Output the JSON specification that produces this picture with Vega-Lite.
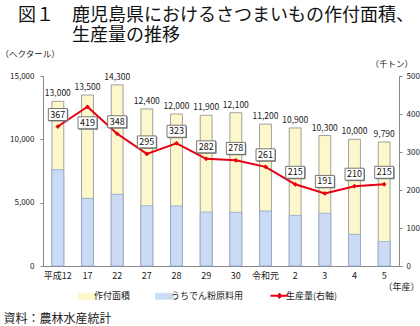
{
  "$schema": "https://vega.github.io/schema/vega-lite/v6.json",
  "width": 356,
  "height": 190,
  "autosize": {"type": "none"},
  "padding": {"left": 43, "top": 76, "right": 21, "bottom": 60},
  "background": "white",
  "title": {
    "text": ["図１　鹿児島県におけるさつまいもの作付面積、", "\u200b　　　生産量の推移"],
    "anchor": "start",
    "frame": "group",
    "dx": -25,
    "dy": -4,
    "offset": 0,
    "font": "Noto Sans CJK JP",
    "fontSize": 18,
    "fontWeight": "normal",
    "lineHeight": 20,
    "color": "#111111"
  },
  "config": {
    "view": {"stroke": null},
    "axis": {
      "grid": false,
      "domainColor": "#888888",
      "tickColor": "#888888",
      "labelFont": "Noto Sans CJK JP",
      "titleFont": "Noto Sans CJK JP",
      "labelColor": "#222222",
      "titleColor": "#222222",
      "titleFontWeight": "normal"
    },
    "text": {"font": "Noto Sans CJK JP"}
  },
  "data": {
    "values": [
      {"year": "平成12", "area": 13000, "starch": 7600, "production": 367},
      {"year": "17", "area": 13500, "starch": 5340, "production": 419},
      {"year": "22", "area": 14300, "starch": 5660, "production": 348},
      {"year": "27", "area": 12400, "starch": 4760, "production": 295},
      {"year": "28", "area": 12000, "starch": 4740, "production": 323},
      {"year": "29", "area": 11900, "starch": 4260, "production": 282},
      {"year": "30", "area": 12100, "starch": 4240, "production": 278},
      {"year": "令和元", "area": 11200, "starch": 4340, "production": 261},
      {"year": "2", "area": 10900, "starch": 4000, "production": 215},
      {"year": "3", "area": 10300, "starch": 4160, "production": 191},
      {"year": "4", "area": 10000, "starch": 2500, "production": 210},
      {"year": "5", "area": 9790, "starch": 1920, "production": 215}
    ]
  },
  "layer": [
    {
      "encoding": {
        "x": {
          "field": "year",
          "type": "ordinal",
          "sort": null,
          "scale": {"paddingInner": 0, "paddingOuter": 0},
          "axis": {
            "orient": "bottom",
            "title": "（年産）",
            "titleX": 340,
            "titleY": 20,
            "titleAlign": "left",
            "titleBaseline": "middle",
            "titleFontSize": 9,
            "labelAngle": 0,
            "labelFontSize": 9,
            "labelPadding": 5,
            "ticks": false,
            "tickSize": 0
          }
        }
      },
      "layer": [
        {
          "mark": {"type": "bar", "width": {"band": 0.4}, "stroke": "#8a8a8a", "strokeWidth": 0.8},
          "encoding": {
            "y": {
              "field": "area",
              "type": "quantitative",
              "scale": {"domain": [0, 15000], "nice": false},
              "axis": {
                "title": "（ヘクタール）",
                "titleAngle": 0,
                "titleX": -43,
                "titleY": -23,
                "titleAlign": "left",
                "titleBaseline": "middle",
                "titleFontSize": 8.5,
                "values": [0, 5000, 10000, 15000],
                "labelExpr": "format(datum.value, ',')",
                "labelFontSize": 8,
                "tickSize": 3,
                "labelPadding": 6
              }
            },
            "color": {
              "datum": "作付面積",
              "type": "nominal",
              "scale": {
                "domain": ["作付面積", "うちでん粉原料用", "生産量(右軸)"],
                "range": ["#FDF8CC", "#CCDBF4", "#E60012"]
              },
              "legend": {
                "orient": "none",
                "legendX": 40,
                "legendY": 215,
                "direction": "horizontal",
                "title": null,
                "padding": 0,
                "symbolSize": 324,
                "labelFont": "Noto Sans CJK JP",
                "labelFontSize": 9,
                "labelColor": "#222222",
                "labelOffset": 2,
                "columnPadding": 22,
                "encode": {
                  "symbols": {
                    "update": {
                      "shape": {"signal": "datum.value === '生産量(右軸)' ? 'M-1,0H1M-0.2,0L0,-0.2L0.2,0L0,0.2Z' : 'M-1,-0.33H1V0.33H-1Z'"},
                      "stroke": {"signal": "datum.value === '生産量(右軸)' ? '#E60012' : '#808080'"},
                      "strokeWidth": {"signal": "datum.value === '生産量(右軸)' ? 2 : 0.8"},
                      "fill": {"scale": "color", "field": "value"},
                      "opacity": {"value": 1},
                      "fillOpacity": {"value": 1}
                    }
                  }
                }
              }
            }
          }
        },
        {
          "mark": {"type": "bar", "width": {"band": 0.4}, "stroke": "#8fa6cf", "strokeWidth": 0.8},
          "encoding": {
            "y": {
              "field": "starch",
              "type": "quantitative",
              "axis": {
                "title": "（ヘクタール）",
                "titleAngle": 0,
                "titleX": -43,
                "titleY": -23,
                "titleAlign": "left",
                "titleBaseline": "middle",
                "titleFontSize": 8.5,
                "values": [0, 5000, 10000, 15000],
                "labelExpr": "format(datum.value, ',')",
                "labelFontSize": 8,
                "tickSize": 3,
                "labelPadding": 6
              }
            },
            "color": {
              "datum": "うちでん粉原料用",
              "type": "nominal",
              "legend": {
                "orient": "none",
                "legendX": 40,
                "legendY": 215,
                "direction": "horizontal",
                "title": null,
                "padding": 0,
                "symbolSize": 324,
                "labelFont": "Noto Sans CJK JP",
                "labelFontSize": 9,
                "labelColor": "#222222",
                "labelOffset": 2,
                "columnPadding": 22,
                "encode": {
                  "symbols": {
                    "update": {
                      "shape": {"signal": "datum.value === '生産量(右軸)' ? 'M-1,0H1M-0.2,0L0,-0.2L0.2,0L0,0.2Z' : 'M-1,-0.33H1V0.33H-1Z'"},
                      "stroke": {"signal": "datum.value === '生産量(右軸)' ? '#E60012' : '#808080'"},
                      "strokeWidth": {"signal": "datum.value === '生産量(右軸)' ? 2 : 0.8"},
                      "fill": {"scale": "color", "field": "value"},
                      "opacity": {"value": 1},
                      "fillOpacity": {"value": 1}
                    }
                  }
                }
              }
            }
          }
        },
        {
          "mark": {"type": "text", "baseline": "bottom", "dy": -3, "fontSize": 8.5, "color": "#222222"},
          "encoding": {
            "y": {"field": "area", "type": "quantitative"},
            "text": {"field": "area", "type": "quantitative", "format": ","}
          }
        }
      ]
    },
    {
      "encoding": {
        "x": {
          "field": "year",
          "type": "ordinal",
          "sort": null,
          "scale": {"padding": 0.5},
          "axis": {
            "orient": "bottom",
            "title": "資料：農林水産統計",
            "titleX": -40,
            "titleY": 52,
            "titleAlign": "left",
            "titleBaseline": "middle",
            "titleFontSize": 12,
            "domain": false,
            "ticks": false,
            "labels": false
          }
        },
        "y": {
          "field": "production",
          "type": "quantitative",
          "scale": {"domain": [0, 500], "nice": false},
          "axis": {
            "orient": "right",
            "title": "（千トン）",
            "titleAngle": 0,
            "titleX": -29,
            "titleY": -13,
            "titleAlign": "left",
            "titleBaseline": "middle",
            "titleFontSize": 8.5,
            "values": [0, 100, 200, 300, 400, 500],
            "labelFontSize": 8,
            "tickSize": 3,
            "labelPadding": 4
          }
        }
      },
      "layer": [
        {
          "mark": {"type": "line", "strokeWidth": 2},
          "encoding": {
            "color": {
              "datum": "生産量(右軸)",
              "type": "nominal",
              "legend": {
                "orient": "none",
                "legendX": 40,
                "legendY": 215,
                "direction": "horizontal",
                "title": null,
                "padding": 0,
                "symbolSize": 324,
                "labelFont": "Noto Sans CJK JP",
                "labelFontSize": 9,
                "labelColor": "#222222",
                "labelOffset": 2,
                "columnPadding": 22,
                "encode": {
                  "symbols": {
                    "update": {
                      "shape": {"signal": "datum.value === '生産量(右軸)' ? 'M-1,0H1M-0.2,0L0,-0.2L0.2,0L0,0.2Z' : 'M-1,-0.33H1V0.33H-1Z'"},
                      "stroke": {"signal": "datum.value === '生産量(右軸)' ? '#E60012' : '#808080'"},
                      "strokeWidth": {"signal": "datum.value === '生産量(右軸)' ? 2 : 0.8"},
                      "fill": {"scale": "color", "field": "value"},
                      "opacity": {"value": 1},
                      "fillOpacity": {"value": 1}
                    }
                  }
                }
              }
            }
          }
        },
        {
          "mark": {"type": "point", "shape": "diamond", "filled": true, "size": 22, "color": "#E60012", "opacity": 1}
        },
        {
          "transform": [{"filter": "datum.year !== '17'"}],
          "mark": {"type": "point", "shape": "M-1,-0.63H1V0.63H-1Z", "size": 361, "filled": true, "fill": "#8a8a8a", "stroke": null, "opacity": 1, "xOffset": 1, "yOffset": -11}
        },
        {
          "transform": [{"filter": "datum.year !== '17'"}],
          "mark": {"type": "point", "shape": "M-1,-0.63H1V0.63H-1Z", "size": 361, "filled": true, "fill": "white", "stroke": "#555555", "strokeWidth": 0.8, "opacity": 1, "yOffset": -12}
        },
        {
          "transform": [{"filter": "datum.year !== '17'"}],
          "mark": {"type": "text", "baseline": "middle", "dy": -12, "fontSize": 9, "color": "#111111"},
          "encoding": {"text": {"field": "production", "type": "quantitative"}}
        },
        {
          "transform": [{"filter": "datum.year === '17'"}],
          "mark": {"type": "point", "shape": "M-1,-0.63H1V0.63H-1Z", "size": 361, "filled": true, "fill": "#8a8a8a", "stroke": null, "opacity": 1, "xOffset": 1, "yOffset": 17}
        },
        {
          "transform": [{"filter": "datum.year === '17'"}],
          "mark": {"type": "point", "shape": "M-1,-0.63H1V0.63H-1Z", "size": 361, "filled": true, "fill": "white", "stroke": "#555555", "strokeWidth": 0.8, "opacity": 1, "yOffset": 16}
        },
        {
          "transform": [{"filter": "datum.year === '17'"}],
          "mark": {"type": "text", "baseline": "middle", "dy": 16, "fontSize": 9, "color": "#111111"},
          "encoding": {"text": {"field": "production", "type": "quantitative"}}
        }
      ]
    }
  ],
  "resolve": {"scale": {"x": "independent", "y": "independent"}}
}
